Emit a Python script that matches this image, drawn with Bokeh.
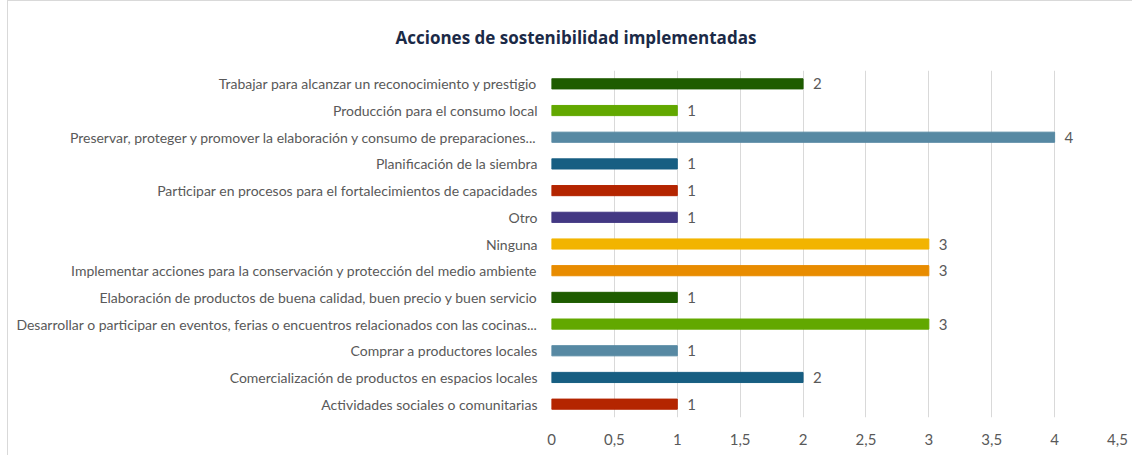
from bokeh.plotting import figure
from bokeh.models import ColumnDataSource, FactorRange, FixedTicker, Range1d
from bokeh.core.properties import value
from bokeh.embed import file_html
from bokeh.resources import INLINE

title = "Acciones de sostenibilidad implementadas"

# categories top to bottom
categories = [
    "Trabajar para alcanzar un reconocimiento y prestigio",
    "Producción para el consumo local",
    "Preservar, proteger y promover la elaboración y consumo de preparaciones...",
    "Planificación de la siembra",
    "Participar en procesos para el fortalecimientos de capacidades",
    "Otro",
    "Ninguna",
    "Implementar acciones para la conservación y protección del medio ambiente",
    "Elaboración de productos de buena calidad, buen precio y buen servicio",
    "Desarrollar o participar en eventos, ferias o encuentros relacionados con las cocinas...",
    "Comprar a productores locales",
    "Comercialización de productos en espacios locales",
    "Actividades sociales o comunitarias",
]
counts = [2, 1, 4, 1, 1, 1, 3, 3, 1, 3, 1, 2, 1]
colors = ["#1e5c00", "#62a800", "#5789a3", "#175e82", "#b42500", "#433883",
          "#f2b400", "#e88c00", "#1e5c00", "#62a800", "#5789a3", "#175e82", "#b42500"]

x_ticks = [0, 0.5, 1, 1.5, 2, 2.5, 3, 3.5, 4, 4.5]
x_tick_labels = ["0", "0,5", "1", "1,5", "2", "2,5", "3", "3,5", "4", "4,5"]

LABEL_FONT = "Lato"
GREY = "#595959"

src = ColumnDataSource(dict(cat=categories, val=counts, color=colors,
                            txt=[str(v) for v in counts]))

p = figure(width=1125, height=455, output_backend="svg", toolbar_location=None,
           y_range=FactorRange(factors=list(reversed(categories))),
           x_range=Range1d(0, 4.5), title=title)
p.min_border_left = 543
p.min_border_right = 16
p.min_border_top = 68
p.min_border_bottom = 39
p.outline_line_color = None
p.background_fill_color = "white"
p.border_fill_color = "white"

p.title.align = "left"
p.title.offset = -156
p.title.standoff = 44
p.title.text_font = "Open Sans"
p.title.text_font_style = "bold"
p.title.text_font_size = "17px"
p.title.text_color = "#1b2a47"

p.hbar(y="cat", right="val", left=0, height=0.38, color="color", source=src)
p.text(x="val", y="cat", text="txt", source=src, x_offset=10,
       text_align="left", text_baseline="middle", text_color=GREY,
       text_font=value(LABEL_FONT), text_font_size="15px")

p.xaxis.ticker = FixedTicker(ticks=x_ticks)
p.xaxis.major_label_overrides = {t: l for t, l in zip(x_ticks, x_tick_labels)}
p.xaxis.axis_line_color = None
p.xaxis.major_tick_line_color = None
p.xaxis.minor_tick_line_color = None
p.xaxis.major_label_standoff = 10
p.xaxis.major_label_text_color = GREY
p.xaxis.major_label_text_font = LABEL_FONT
p.xaxis.major_label_text_font_size = "15px"

p.yaxis.axis_line_color = None
p.yaxis.major_tick_line_color = None
p.yaxis.minor_tick_line_color = None
p.yaxis.major_label_standoff = 8
p.yaxis.major_label_text_color = GREY
p.yaxis.major_label_text_font = LABEL_FONT
p.yaxis.major_label_text_font_size = "14px"

p.xgrid.grid_line_color = "#d9d9d9"
p.ygrid.grid_line_color = None

p.styles = {"margin-left": "7px", "margin-top": "0px",
            "border-left": "1px solid #d9d9d9", "border-top": "1px solid #d9d9d9"}

open("out.html", "w").write(file_html(p, INLINE))
